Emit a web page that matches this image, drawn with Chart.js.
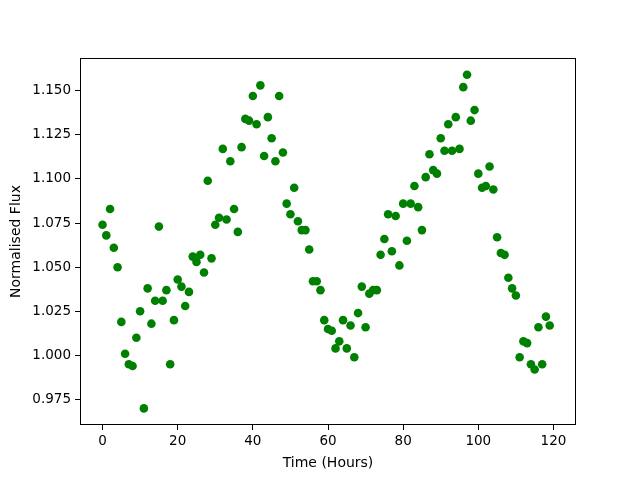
<!DOCTYPE html>
<html>
<head>
<meta charset="utf-8">
<script src="https://cdn.jsdelivr.net/npm/chart.js@4/dist/chart.umd.min.js"></script>
<style>
  html, body { margin: 0; padding: 0; background: #fff; }
  canvas { display: block; }
</style>
</head>
<body>
<canvas id="fluxChart" width="640" height="480"></canvas>
<script>
// --- data ---
const hours = [];
for (let h = 0; h < 120; h++) hours.push(h);

const flux = [
  1.074, 1.068, 1.083, 1.061, 1.050, 1.019, 1.001, 0.995, 0.994, 1.010,
  1.025, 0.970, 1.038, 1.018, 1.031, 1.073, 1.031, 1.037, 0.995, 1.020,
  1.043, 1.039, 1.028, 1.036, 1.056, 1.053, 1.057, 1.047, 1.099, 1.055,
  1.074, 1.078, 1.117, 1.077, 1.110, 1.083, 1.070, 1.118, 1.134, 1.133,
  1.147, 1.131, 1.153, 1.113, 1.135, 1.123, 1.110, 1.147, 1.115, 1.086,
  1.080, 1.095, 1.076, 1.071, 1.071, 1.060, 1.042, 1.042, 1.037, 1.020,
  1.015, 1.014, 1.004, 1.008, 1.020, 1.004, 1.017, 0.999, 1.024, 1.039,
  1.016, 1.035, 1.037, 1.037, 1.057, 1.066, 1.080, 1.059, 1.079, 1.051,
  1.086, 1.065, 1.086, 1.096, 1.084, 1.071, 1.101, 1.114, 1.105, 1.103,
  1.123, 1.116, 1.131, 1.116, 1.135, 1.117, 1.152, 1.159, 1.133, 1.139,
  1.103, 1.095, 1.096, 1.107, 1.094, 1.067, 1.058, 1.057, 1.044, 1.038,
  1.034, 0.999, 1.008, 1.007, 0.995, 0.992, 1.016, 0.995, 1.022, 1.017
];

const xTicks = [0, 20, 40, 60, 80, 100, 120];
const yTicks = [0.975, 1.000, 1.025, 1.050, 1.075, 1.100, 1.125, 1.150];

// box round the plot, like matplotlib spines
const frame = {
  id: 'frame',
  afterDraw(chart) {
    const { ctx, chartArea: a } = chart;
    ctx.save();
    ctx.strokeStyle = '#000';
    ctx.lineWidth = 1;
    ctx.strokeRect(a.left + 0.5, a.top + 0.5, a.right - a.left - 1, a.bottom - a.top - 1);
    ctx.restore();
  }
};

const tickFont = { family: 'DejaVu Sans', size: 13.5 };

new Chart(document.getElementById('fluxChart'), {
  type: 'scatter',
  data: {
    datasets: [{
      data: hours.map((h, i) => ({ x: h, y: flux[i] })),
      backgroundColor: '#008000',
      borderWidth: 0,
      pointRadius: 4.3,
      pointHoverRadius: 4.3
    }]
  },
  options: {
    responsive: false,
    animation: false,
    layout: { padding: { left: 0, right: 64, top: 58, bottom: 0 } },
    plugins: { legend: { display: false }, tooltip: { enabled: false } },
    scales: {
      x: {
        min: -6, max: 126,
        afterBuildTicks: s => { s.ticks = xTicks.map(v => ({ value: v })); },
        afterFit: s => { s.height = 55; },
        ticks: { color: '#000', font: tickFont, padding: 3, maxRotation: 0 },
        grid: { drawOnChartArea: false, drawTicks: true, tickLength: 5, color: '#000' },
        border: { display: false },
        title: {
          display: true, text: 'Time (Hours)', color: '#000',
          font: { family: 'DejaVu Sans', size: 14 }, padding: { bottom: 8 }
        }
      },
      y: {
        min: 0.9606, max: 1.1685,
        afterBuildTicks: s => { s.ticks = yTicks.map(v => ({ value: v })); },
        afterFit: s => { s.width = 80; },
        ticks: { color: '#000', font: tickFont, padding: 4, callback: v => v.toFixed(3) },
        grid: { drawOnChartArea: false, drawTicks: true, tickLength: 5, color: '#000' },
        border: { display: false },
        title: {
          display: true, text: 'Normalised Flux', color: '#000',
          font: { family: 'DejaVu Sans', size: 14 }, padding: { top: 8 }
        }
      }
    }
  },
  plugins: [frame]
});
</script>
</body>
</html>
